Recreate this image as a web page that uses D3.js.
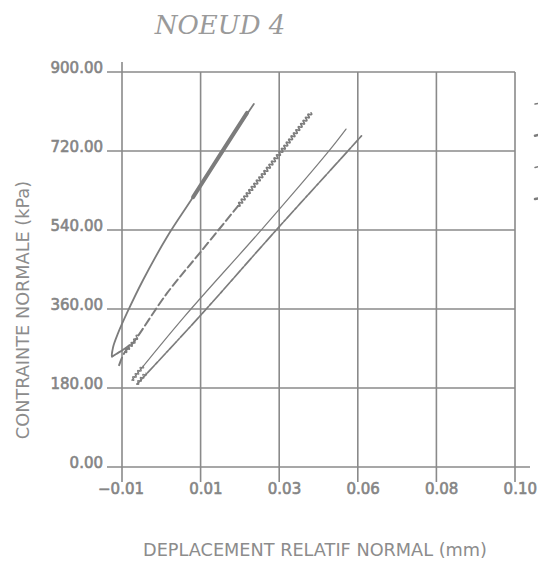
<!DOCTYPE html>
<html>
<head>
<meta charset="utf-8">
<script src="https://cdn.jsdelivr.net/npm/d3@7"></script>
<style>
  body { margin: 0; background: #fff; }
  svg { display: block; }
  .tick-label { font-family: "DejaVu Sans", sans-serif; font-size: 15px; fill: #858585; stroke: #858585; stroke-width: 0.6px; }
  .axis-title { font-family: "DejaVu Sans", sans-serif; font-size: 17.7px; fill: #8c8c8c; }
  .title { font-family: "DejaVu Serif", serif; font-style: italic; font-size: 26px; fill: #9a9a9a; }
  .grid { stroke: #8a8a8a; stroke-width: 1.6px; fill: none; }
  .curve { fill: none; stroke: #7c7c7c; stroke-linejoin: round; stroke-linecap: round; }
</style>
</head>
<body>
<script>
// axis ticks (the plotter rounds 5 equal steps to two decimals)
let xTicks = [-0.01, 0.012, 0.034, 0.056, 0.078, 0.10];
let xTickLabels = ["\u22120.01", "0.01", "0.03", "0.06", "0.08", "0.10"];
let yTicks = [0, 180, 360, 540, 720, 900];
let yTickLabels = ["0.00", "180.00", "360.00", "540.00", "720.00", "900.00"];

// solid curve : small loop at the bottom then loading branch
let loadX = [-0.0078, -0.0097, -0.0111, -0.0125, -0.0128, -0.0125, -0.0111, -0.0086, -0.0041, 0.0026, 0.0099, 0.0183, 0.0269];
let loadY = [278, 267, 260, 253, 251, 273, 305, 351, 426, 524, 615, 722, 827];
// repeated cycles near the top of the solid curve
let cycleX = [0.0099, 0.0183, 0.0250];
let cycleY = [615, 722, 807];

// dashed curve, wavy in its upper part
let dashedX = [-0.0108, -0.0092, -0.0069, 0.0026, 0.0118, 0.0211, 0.0225];
let dashedY = [232, 262, 283, 396, 488, 581, 595];
let dashedStartX = [-0.0092, -0.0069, -0.0055];
let dashedStartY = [262, 283, 300];
let dashedWavyX = [0.0225, 0.0345, 0.0429];
let dashedWavyY = [595, 718, 807];

// thin solid curve
let thinX = [-0.0072, 0.0074, 0.0292, 0.0477, 0.0527];
let thinY = [198, 342, 542, 718, 770];
let thinStartX = [-0.0072, -0.0041];
let thinStartY = [198, 230];

// dash-dot curve
let dashDotX = [-0.0058, 0.0116, 0.0334, 0.0530, 0.0572];
let dashDotY = [189, 342, 542, 718, 756];
let dashDotStartX = [-0.0058, -0.0033];
let dashDotStartY = [189, 214];

let legendKeys = ["solid", "dashed", "thin", "dashdot"];

window.onload = drawChart();

function drawChart(){
    let width = 538;
    let height = 565;

    let svg = d3.select("body")
        .append("svg")
        .attr("width", width)
        .attr("height", height);

    let x = d3.scaleLinear().domain([-0.01, 0.10]).range([122, 515]);
    let y = d3.scaleLinear().domain([0, 900]).range([467, 72]);

    // vertical grid lines, the first one is the y axis
    svg.selectAll(".vgrid")
        .data(xTicks)
        .enter()
        .append("line")
        .attr("class", "grid")
        .attr("x1", d => x(d))
        .attr("x2", d => x(d))
        .attr("y1", (d, i) => i === 0 ? y(900) - 10 : y(900))
        .attr("y2", y(0) + 15);

    // horizontal grid lines with the short tick on the left
    svg.selectAll(".hgrid")
        .data(yTicks)
        .enter()
        .append("line")
        .attr("class", "grid")
        .attr("x1", x(-0.01) - 15)
        .attr("x2", d => d === 0 ? x(0.10) + 15 : x(0.10))
        .attr("y1", d => y(d))
        .attr("y2", d => y(d));

    // y tick labels sit on the tick like an underscore
    svg.selectAll(".ylab")
        .data(yTicks)
        .enter()
        .append("text")
        .attr("class", "tick-label")
        .attr("text-anchor", "end")
        .attr("x", x(-0.01) - 19)
        .attr("y", d => y(d) + 1)
        .text((d, i) => yTickLabels[i]);

    svg.selectAll(".xlab")
        .data(xTicks)
        .enter()
        .append("text")
        .attr("class", "tick-label")
        .attr("text-anchor", "end")
        .attr("x", d => x(d) + 22)
        .attr("y", y(0) + 27)
        .text((d, i) => xTickLabels[i]);

    // titles
    svg.append("text")
        .attr("class", "title")
        .attr("text-anchor", "middle")
        .attr("x", 220)
        .attr("y", 34)
        .text("NOEUD 4");

    svg.append("text")
        .attr("class", "axis-title")
        .attr("text-anchor", "middle")
        .attr("x", 315)
        .attr("y", 556)
        .text("DEPLACEMENT RELATIF NORMAL (mm)");

    svg.append("text")
        .attr("class", "axis-title")
        .attr("text-anchor", "middle")
        .attr("transform", "translate(29,310) rotate(-90)")
        .text("CONTRAINTE NORMALE (kPa)");

    // line generators
    let smooth = d3.line()
        .x(d => x(d[0]))
        .y(d => y(d[1]))
        .curve(d3.curveCatmullRom.alpha(0.5));

    let wavy = d3.line()
        .x(d => x(d[0]))
        .y(d => y(d[1]))
        .curve(curveWavy(1.6, 2));

    let zip = (xs, ys) => xs.map((v, i) => [v, ys[i]]);

    // solid curve
    svg.append("path")
        .attr("class", "curve")
        .attr("stroke-width", 1.8)
        .attr("d", smooth(zip(loadX, loadY)));
    svg.append("path")
        .attr("class", "curve")
        .attr("stroke-width", 4)
        .attr("d", smooth(zip(cycleX, cycleY)));

    // dashed curve
    svg.append("path")
        .attr("class", "curve")
        .attr("stroke-width", 2)
        .attr("stroke-linecap", "butt")
        .attr("stroke-dasharray", "8,4")
        .attr("d", smooth(zip(dashedX, dashedY)));
    svg.append("path")
        .attr("class", "curve")
        .attr("stroke-width", 1.4)
        .attr("d", wavy(zip(dashedStartX, dashedStartY)));
    svg.append("path")
        .attr("class", "curve")
        .attr("stroke-width", 1.6)
        .attr("d", wavy(zip(dashedWavyX, dashedWavyY)));

    // thin curve
    svg.append("path")
        .attr("class", "curve")
        .attr("stroke-width", 1.2)
        .attr("d", smooth(zip(thinX, thinY)));
    svg.append("path")
        .attr("class", "curve")
        .attr("stroke-width", 1.1)
        .attr("d", wavy(zip(thinStartX, thinStartY)));

    // dash-dot curve
    svg.append("path")
        .attr("class", "curve")
        .attr("stroke-width", 1.7)
        .attr("stroke-linecap", "butt")
        .attr("stroke-dasharray", "10,1.5,3,1.5")
        .attr("d", smooth(zip(dashDotX, dashDotY)));
    svg.append("path")
        .attr("class", "curve")
        .attr("stroke-width", 1.1)
        .attr("d", wavy(zip(dashDotStartX, dashDotStartY)));

    // legend samples, cut off by the right edge of the picture
    svg.selectAll(".legend")
        .data(legendKeys)
        .enter()
        .append("line")
        .attr("class", "curve")
        .attr("stroke-width", (d, i) => i % 2 ? 2.5 : 1.5)
        .attr("x1", 535)
        .attr("x2", 545)
        .attr("y1", (d, i) => 104 + i * 31.7)
        .attr("y2", (d, i) => 102 + i * 31.7);
}

// curve factory drawing a small wave along the polyline
function curveWavy(amp, half){
    return function(context){
        let pts;
        return {
            areaStart(){}, areaEnd(){},
            lineStart(){ pts = []; },
            point(px, py){ pts.push([+px, +py]); },
            lineEnd(){
                if (!pts.length) return;
                context.moveTo(pts[0][0], pts[0][1]);
                let side = 1;
                for (let i = 1; i < pts.length; i++){
                    let [x0, y0] = pts[i - 1], [x1, y1] = pts[i];
                    let len = Math.hypot(x1 - x0, y1 - y0);
                    if (!len) continue;
                    let n = Math.max(1, Math.round(len / half));
                    let ux = (x1 - x0) / len, uy = (y1 - y0) / len;
                    for (let k = 1; k <= n; k++){
                        let tm = (k - 0.5) / n * len, t1 = k / n * len;
                        context.quadraticCurveTo(
                            x0 + ux * tm - uy * amp * 2 * side,
                            y0 + uy * tm + ux * amp * 2 * side,
                            x0 + ux * t1, y0 + uy * t1);
                        side = -side;
                    }
                }
            }
        };
    };
}
</script>
</body>
</html>
